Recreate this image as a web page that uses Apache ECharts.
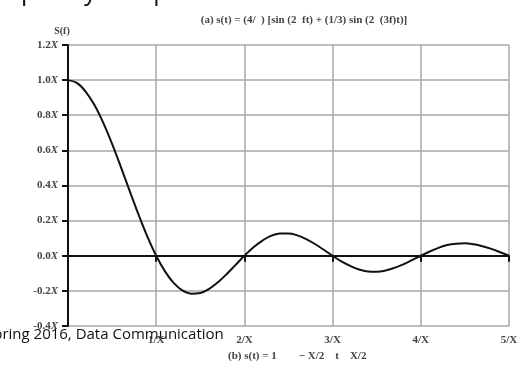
<!DOCTYPE html>
<html>
<head>
<meta charset="utf-8">
<script src="https://cdn.jsdelivr.net/npm/echarts@6/dist/echarts.min.js"></script>
<style>
  html, body { margin: 0; padding: 0; background: #fff; }
  #chart { width: 528px; height: 369px; }
</style>
</head>
<body>
<div id="chart"></div>
<script>
// frequency in units of 1/X
var freqs = [0, 0.1, 0.2, 0.3, 0.4, 0.5, 0.6, 0.7, 0.8, 0.9,
  1.0, 1.1, 1.2, 1.3, 1.4, 1.5, 1.6, 1.7, 1.8, 1.9,
  2.0, 2.1, 2.2, 2.3, 2.4, 2.5, 2.6, 2.7, 2.8, 2.9,
  3.0, 3.1, 3.2, 3.3, 3.4, 3.5, 3.6, 3.7, 3.8, 3.9,
  4.0, 4.1, 4.2, 4.3, 4.4, 4.5, 4.6, 4.7, 4.8, 4.9, 5.0];
// S(f) in units of X
var spectrum = [1.000, 0.984, 0.935, 0.858, 0.757, 0.637, 0.505, 0.368, 0.234, 0.109,
  0.000, -0.089, -0.156, -0.198, -0.216, -0.212, -0.189, -0.151, -0.104, -0.052,
  0.000, 0.047, 0.085, 0.113, 0.126, 0.127, 0.116, 0.095, 0.067, 0.034,
  0.000, -0.032, -0.058, -0.078, -0.089, -0.091, -0.084, -0.069, -0.049, -0.025,
  0.000, 0.024, 0.045, 0.061, 0.069, 0.071, 0.065, 0.054, 0.039, 0.020, 0.000];
var xTickLabels = ['', '1/X', '2/X', '3/X', '4/X', '5/X'];

var serif = '"Liberation Serif", "DejaVu Serif", serif';
var sans = '"Open Sans", "Noto Sans", sans-serif';
var chart = echarts.init(document.getElementById('chart'));

chart.setOption({
  animation: false,
  grid: { left: 68, right: 19, top: 45, bottom: 43 },
  title: {
    text: '(a) s(t) = (4/  ) [sin (2  ft) + (1/3) sin (2  (3f)t)]',
    left: 299,
    textAlign: 'center',
    top: 10,
    textStyle: { fontFamily: serif, fontSize: 11, fontWeight: 'bold', color: '#444' }
  },
  xAxis: {
    type: 'value',
    min: 0,
    max: 5,
    interval: 1,
    axisLine: { lineStyle: { color: '#111', width: 2 } },
    axisTick: { length: 6, lineStyle: { color: '#111', width: 2 } },
    axisLabel: {
      margin: 9,
      fontFamily: serif,
      fontSize: 11,
      fontWeight: 'bold',
      color: '#444',
      formatter: function (v) { return xTickLabels[Math.round(v)]; }
    },
    splitLine: { lineStyle: { color: '#a8a8a8', width: 1.5 } }
  },
  yAxis: {
    type: 'value',
    min: -0.4,
    max: 1.2,
    interval: 0.2,
    name: 'S(f)',
    nameLocation: 'end',
    nameGap: 9,
    nameTextStyle: { fontFamily: serif, fontSize: 10, fontWeight: 'bold', color: '#444', align: 'center', padding: [0, 12, 0, 0] },
    axisLine: { show: true, lineStyle: { color: '#111', width: 2 } },
    axisTick: { show: true, length: 6, lineStyle: { color: '#111', width: 2 } },
    axisLabel: {
      margin: 10,
      showMinLabel: true,
      hideOverlap: false,
      fontFamily: serif,
      fontSize: 11,
      fontWeight: 'bold',
      color: '#444',
      formatter: function (v) { return v.toFixed(1) + '{i|X}'; },
      rich: { i: { fontFamily: serif, fontSize: 11, fontWeight: 'bold', fontStyle: 'italic', color: '#444' } }
    },
    splitLine: { lineStyle: { color: '#a8a8a8', width: 1.5 } }
  },
  series: [{
    type: 'line',
    data: freqs.map(function (f, i) { return [f, spectrum[i]]; }),
    smooth: 0.4,
    showSymbol: false,
    z: 5,
    lineStyle: { color: '#111', width: 2 },
    markLine: {
      silent: true,
      symbol: 'none',
      label: { show: false },
      lineStyle: { color: '#111', width: 2, type: 'solid' },
      data: [{ yAxis: 0 }]
    }
  }],
  graphic: [
    {
      type: 'text', left: 228, top: 351,
      style: { text: '(b) s(t) = 1        \u2212 X/2    t    X/2', fontFamily: serif, fontSize: 11, fontWeight: 'bold', fill: '#444' }
    },
    {
      type: 'text', left: -15, top: 327, z: 10,
      style: { text: 'Spring 2016, Data Communication', fontFamily: sans, fontSize: 15, fill: '#111' }
    },
    {
      type: 'text', left: -2, top: -20, z: 10,
      style: { text: 'equency components', fontFamily: sans, fontSize: 25, fill: '#111' }
    }
  ]
});
</script>
</body>
</html>
